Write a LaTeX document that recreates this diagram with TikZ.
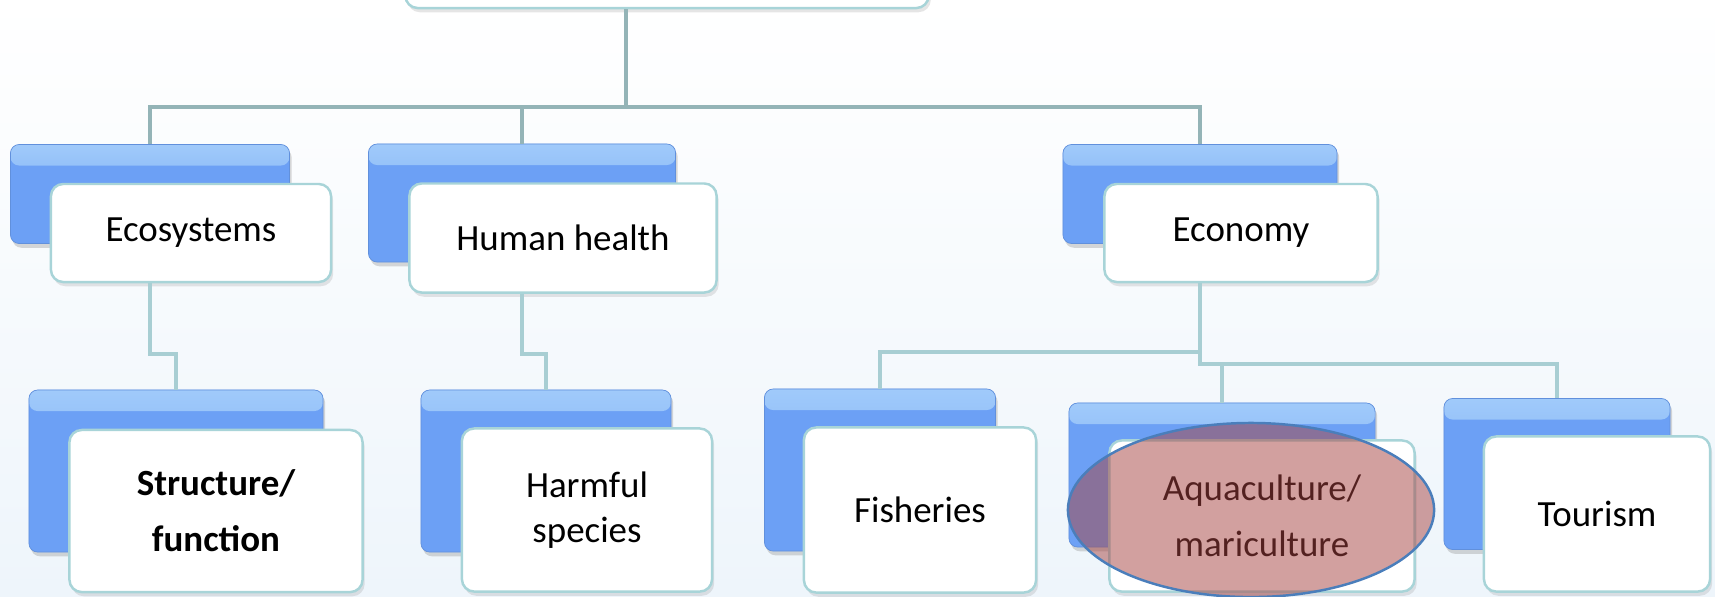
\documentclass[tikz,border=0pt]{standalone}
\usepackage{fontspec}
\setmainfont{Carlito}
\usetikzlibrary{shapes.geometric,shadows}

\definecolor{boxblue}{RGB}{108,160,245}
\definecolor{boxhi}{RGB}{160,202,250}
\definecolor{boxedge}{RGB}{168,212,216}
\definecolor{linktop}{RGB}{148,180,183}
\definecolor{linklow}{RGB}{168,206,211}
\definecolor{markred}{RGB}{167,67,65}
\definecolor{markedge}{RGB}{74,126,187}
\definecolor{bgblue}{RGB}{238,245,251}

\tikzset{
  backbox/.style={rectangle, rounded corners=2.5pt, fill=boxblue, draw=boxblue!90!black, line width=0.2pt, inner sep=0pt,
    drop shadow={opacity=0.3, shadow xshift=0.6pt, shadow yshift=-1.2pt},
    path picture={\shade[top color=boxhi, bottom color=boxblue] (path picture bounding box.north west) rectangle ([yshift=-6pt]path picture bounding box.north east);}},
  frontbox/.style={rectangle, rounded corners=3.5pt, fill=white, draw=boxedge, line width=0.7pt, inner sep=2pt,
    align=center, font=\fontsize{10.5}{12.6}\selectfont,
    drop shadow={opacity=0.2, shadow xshift=0.6pt, shadow yshift=-1.2pt}},
  link/.style={line width=1.3pt},
}

\begin{document}
\begin{tikzpicture}[x=0.01cm, y=-0.01cm]
    \clip (0,0) rectangle (1715,596);
    \shade[top color=white, bottom color=bgblue] (0,0) rectangle (1715,596);

    % root box, cut off by the top edge
    \node[backbox, minimum width=5.23cm, minimum height=0.98cm] (rootb) at (626,-81) {};
    \node[frontbox, minimum width=5.23cm, minimum height=0.98cm] (root) at (667,-41) {};

    % first row
    \node[backbox, minimum width=2.79cm, minimum height=0.99cm] (ecob) at (150,194) {};
    \node[frontbox, minimum width=2.8cm, minimum height=0.98cm] (eco) at (191,233) {Ecosystems};
    \node[backbox, minimum width=3.07cm, minimum height=1.18cm] (humb) at (522,203) {};
    \node[frontbox, minimum width=3.07cm, minimum height=1.09cm] (hum) at (563,238) {Human health};
    \node[backbox, minimum width=2.74cm, minimum height=0.99cm] (econb) at (1200,194) {};
    \node[frontbox, minimum width=2.73cm, minimum height=0.98cm] (econ) at (1241,233) {Economy};

    % second row
    \node[backbox, minimum width=2.94cm, minimum height=1.62cm] (strb) at (176,471) {};
    \node[frontbox, minimum width=2.93cm, minimum height=1.62cm] (str) at (216,511) {\bfseries Structure/\\[3.4pt]\bfseries function};
    \node[backbox, minimum width=2.5cm, minimum height=1.62cm] (harmb) at (546,471) {};
    \node[frontbox, minimum width=2.5cm, minimum height=1.63cm] (harm) at (587,510) {Harmful\\species};
    \node[backbox, minimum width=2.31cm, minimum height=1.62cm] (fishb) at (880,470) {};
    \node[frontbox, minimum width=2.32cm, minimum height=1.65cm] (fish) at (920,510) {Fisheries};
    \node[backbox, minimum width=3.06cm, minimum height=1.44cm] (aquab) at (1222,475) {};
    \node[frontbox, minimum width=3.05cm, minimum height=1.51cm] (aqua) at (1262,516) {Aquaculture/\\[3.4pt]mariculture};
    \node[backbox, minimum width=2.26cm, minimum height=1.51cm] (tourb) at (1557,474) {};
    \node[frontbox, minimum width=2.26cm, minimum height=1.55cm] (tour) at (1597,514) {Tourism};

    % connectors
    \coordinate (bus) at (0,107);
    \coordinate (jog) at (0,354);
    \coordinate (ebus) at (0,352);
    \coordinate (ebus2) at (0,364);

    \draw[link, linktop] (rootb.center |- root.south) -- (rootb.center |- bus);
    \draw[link, linktop] (ecob.north) -- (ecob.north |- bus) -- (econb.north |- bus) -- (econb.north);
    \draw[link, linktop] (humb.north |- bus) -- (humb.north);

    \draw[link, linklow] (ecob.center |- eco.south) -- (ecob.center |- jog) -- (strb.north |- jog) -- (strb.north);
    \draw[link, linklow] (humb.center |- hum.south) -- (humb.center |- jog) -- (harmb.north |- jog) -- (harmb.north);
    \draw[link, linklow] (econb.center |- econ.south) -- (econb.center |- ebus2) -- (tourb.north |- ebus2) -- (tourb.north);
    \draw[link, linklow] (fishb.north) -- (fishb.north |- ebus) -- (econb.center |- ebus);
    \draw[link, linklow] (aquab.north |- ebus2) -- (aquab.north);

    % highlight
    \node[ellipse, minimum width=3.66cm, minimum height=1.74cm, fill=markred, fill opacity=0.5, draw=markedge, line width=0.7pt] (mark) at (1251,510) {};

\end{tikzpicture}
\end{document}
